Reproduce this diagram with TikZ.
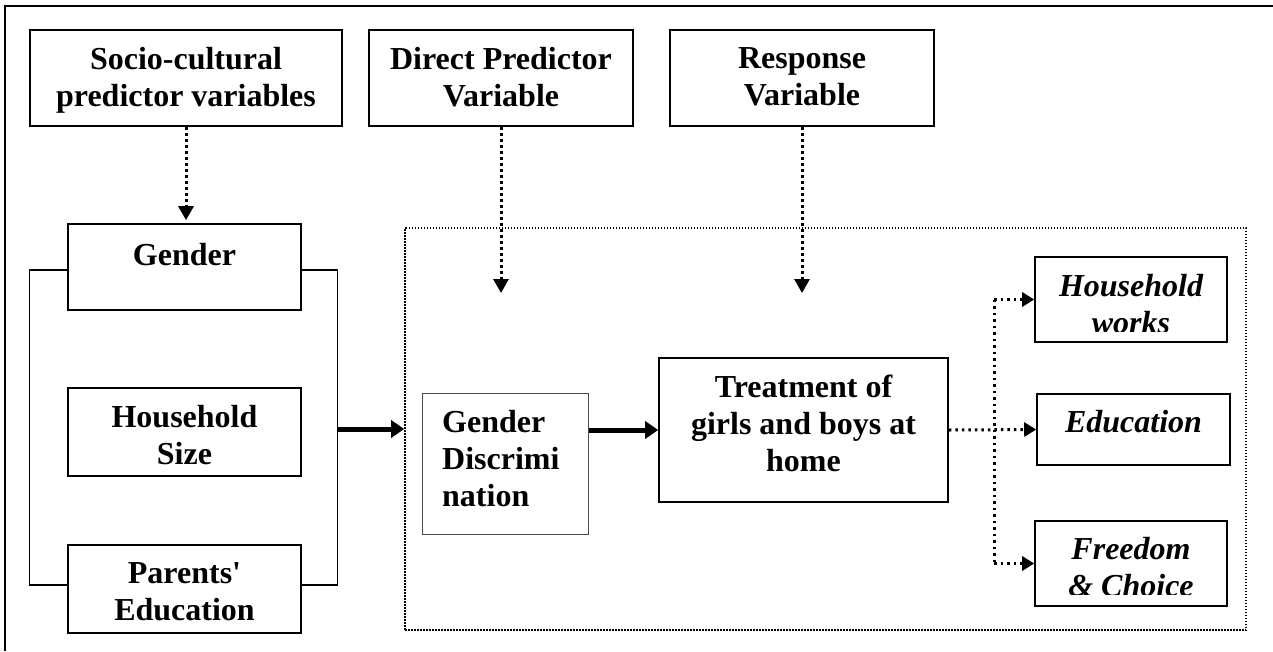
\documentclass[tikz,border=0pt]{standalone}
\usepackage{fontspec}
\setmainfont{Liberation Serif}
\newfontfamily\plainquote{Liberation Serif}[Ligatures=TeXOff]
\usetikzlibrary{arrows.meta}
\begin{document}
\begin{tikzpicture}[x=1pt,y=-1pt,
  box/.style={draw, line width=1.6pt, inner sep=0pt},
  txt/.style={inner sep=0pt, align=center, font=\bfseries\fontsize{32}{37}\selectfont},
  itxt/.style={inner sep=0pt, align=center, font=\bfseries\itshape\fontsize{32}{37}\selectfont},
  dotarrow/.style={line width=3pt, dash pattern=on 3pt off 3pt, -{Triangle[length=14pt,width=15pt]}},
  finedot/.style={line width=3pt, dash pattern=on 2.5pt off 4pt},
  finearrow/.style={finedot, -{Triangle[length=12pt,width=14pt]}},
  thickarrow/.style={line width=5pt, -{Triangle[length=13pt,width=17pt]}},
  bracket/.style={line width=1.3pt}]
\useasboundingbox (0,0) rectangle (1273,651);
% outer frame (left and top sides)
\draw[line width=2pt] (5,651) -- (5,6) -- (1273,6);
% dotted region
\node[draw, line width=1.6pt, dash pattern=on 1.5pt off 1.5pt, minimum width=841pt, minimum height=402pt, inner sep=0pt] (region) at (825.5,429) {};
% header boxes
\node[box, minimum width=312pt, minimum height=96pt] (socio) at (186,78) {};
\node[box, minimum width=264pt, minimum height=96pt] (direct) at (501,78) {};
\node[box, minimum width=264pt, minimum height=96pt] (response) at (802,78) {};
\node[txt, anchor=north] (sociot) at ([yshift=-18pt]socio.north) {Socio-cultural\\predictor variables};
\node[txt, anchor=north] (directt) at ([yshift=-18pt]direct.north) {Direct Predictor\\Variable};
\node[txt, anchor=north] (responset) at ([yshift=-18pt]response.north) {Response\\Variable};
% left boxes
\node[box, minimum width=233pt, minimum height=86pt] (gender) at (184.5,267) {};
\node[box, minimum width=233pt, minimum height=88pt] (hhsize) at (184.5,432) {};
\node[box, minimum width=233pt, minimum height=88pt] (parents) at (184.5,589) {};
\node[txt, anchor=north] (gendert) at ([yshift=-20pt]gender.north) {Gender};
\node[txt, anchor=north] (hhsizet) at ([yshift=-18pt]hhsize.north) {Household\\Size};
\node[txt, anchor=north] (parentst) at ([yshift=-18pt]parents.north) {Parents{\plainquote\bfseries'}\\Education};
% middle boxes
\node[draw, line width=1pt, draw=black!70, minimum width=166pt, minimum height=141pt, inner sep=0pt] (gd) at (505,463.5) {};
\node[txt, align=left, anchor=north west] (gdt) at (442,410) {Gender\\Discrimi\\nation};
\node[box, minimum width=289pt, minimum height=144pt] (treat) at (803.5,430) {};
\node[txt, anchor=north] (treatt) at ([yshift=-18pt]treat.north) {Treatment of\\girls and boys at\\home};
% outcome boxes
\node[box, minimum width=192pt, minimum height=85pt] (hwork) at (1131,299.5) {};
\node[box, minimum width=193pt, minimum height=71pt] (educ) at (1133.5,429.5) {};
\node[box, minimum width=192pt, minimum height=85pt] (free) at (1131,563.5) {};
\begin{scope}
\clip (1035,257) rectangle (1227,331);
\node[itxt, anchor=north] (hworkt) at ([yshift=-18pt]hwork.north) {Household\\works};
\end{scope}
\node[itxt, anchor=north] (educt) at ([yshift=-17pt]educ.north) {Education};
\begin{scope}
\clip (1035,521) rectangle (1227,594);
\node[itxt, anchor=north] (freet) at ([yshift=-17pt]free.north) {Freedom\\\& Choice};
\end{scope}
% header arrows
\coordinate (dend) at (502,293);
\coordinate (rend) at (803,293);
\draw[dotarrow, shorten >=3pt] (socio.south) -- (socio.south |- gender.north);
\draw[dotarrow] (direct.south) -- (direct.south |- dend);
\draw[dotarrow] (response.south) -- (response.south |- rend);
% bracket
\draw[bracket] ([yshift=-3pt]gender.west) -- ++(-38,0) |- ([yshift=4pt]parents.west);
\draw[bracket] ([yshift=-3pt]gender.east) -- ++(36,0) |- ([yshift=4pt]parents.east);
% thick arrows
\coordinate (bj) at (337,429);
\draw[thickarrow] (bj) -- (bj -| region.west);
\draw[thickarrow] (gd.east |- treat.west) -- (treat.west);
% dotted outcome arrows
\coordinate (br) at (994,429);
\draw[finearrow] (treat.east) -- (educ.west);
\draw[finedot] (br |- hwork.west) -- (br |- free.west);
\draw[finearrow] (br |- hwork.west) -- (hwork.west);
\draw[finearrow] (br |- free.west) -- (free.west);
\end{tikzpicture}
\end{document}
